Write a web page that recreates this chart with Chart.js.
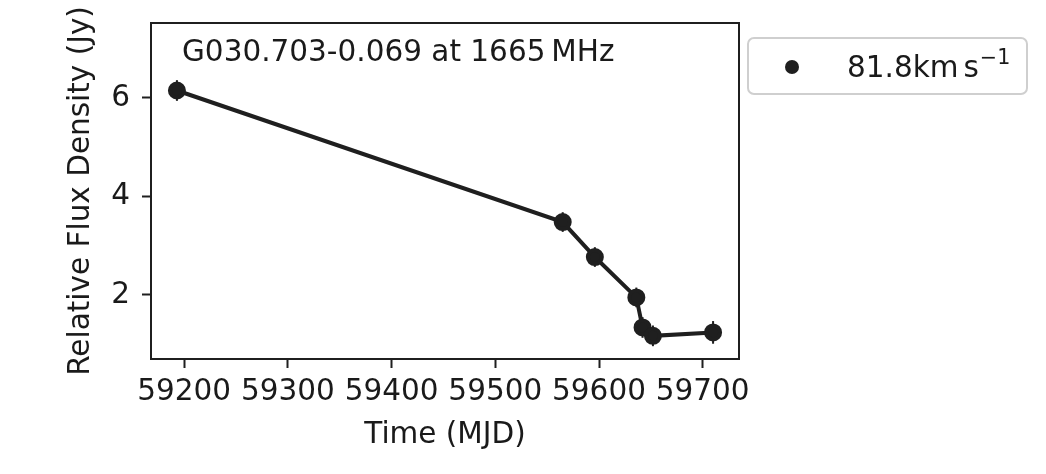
<!DOCTYPE html>
<html>
<head>
<meta charset="utf-8">
<script src="https://cdn.jsdelivr.net/npm/chart.js@4"></script>
<style>body{margin:0;background:#fff}</style>
</head>
<body>
<canvas id="fluxChart" width="1046" height="474"></canvas>
<script>
// Light curve values
const mjd = [59193, 59565, 59596, 59636, 59642, 59652, 59710];
const flux = [6.15, 3.48, 2.77, 1.95, 1.34, 1.17, 1.24];
const fluxErr = [0.21, 0.2, 0.2, 0.2, 0.21, 0.21, 0.23];
const xTicks = [59200, 59300, 59400, 59500, 59600, 59700];
const yTicks = [2, 4, 6];
const seriesLabel = '81.8km';
const seriesUnit = 's';
const seriesSup = '\u22121';
const plotTitle = 'G030.703-0.069 at 1665\u2009MHz';

const ink = '#1f1f1f';
const fontFamily = '"DejaVu Sans", sans-serif';
const fontSize = 29.5;

// Error bars, drawn under the line and markers
const errorBars = {
    id: 'errorBars',
    beforeDatasetsDraw(chart) {
        const {ctx, scales: {x, y}} = chart;
        ctx.save();
        ctx.strokeStyle = ink;
        ctx.lineWidth = 2;
        mjd.forEach((t, i) => {
            const px = x.getPixelForValue(t);
            ctx.beginPath();
            ctx.moveTo(px, y.getPixelForValue(flux[i] - fluxErr[i]));
            ctx.lineTo(px, y.getPixelForValue(flux[i] + fluxErr[i]));
            ctx.stroke();
        });
        ctx.restore();
    }
};

// Axes frame, title inside the plot and legend box on the right
const decorations = {
    id: 'decorations',
    afterDraw(chart) {
        const {ctx, chartArea: a} = chart;
        ctx.save();
        ctx.strokeStyle = ink;
        ctx.lineWidth = 2;
        ctx.strokeRect(a.left, a.top, a.right - a.left, a.bottom - a.top);

        ctx.fillStyle = '#1a1a1a';
        ctx.font = fontSize + 'px ' + fontFamily;
        ctx.textBaseline = 'alphabetic';
        ctx.textAlign = 'left';
        ctx.fillText(plotTitle, a.left + 31, 61);

        // legend
        const bx = 748, by = 38, bw = 279, bh = 56;
        ctx.beginPath();
        ctx.roundRect(bx, by, bw, bh, 6);
        ctx.fillStyle = '#fff';
        ctx.fill();
        ctx.strokeStyle = '#cfcfcf';
        ctx.lineWidth = 2;
        ctx.stroke();

        const ds = chart.data.datasets[0];
        ctx.beginPath();
        ctx.arc(792, 67, 7, 0, Math.PI * 2);
        ctx.fillStyle = ds.backgroundColor;
        ctx.fill();

        ctx.fillStyle = '#1a1a1a';
        ctx.font = fontSize + 'px ' + fontFamily;
        let tx = 847;
        const ty = 77;
        ctx.fillText(ds.label, tx, ty);
        tx += ctx.measureText(ds.label).width + 5;
        ctx.fillText(seriesUnit, tx, ty);
        tx += ctx.measureText(seriesUnit).width + 1;
        ctx.font = (fontSize * 0.7) + 'px ' + fontFamily;
        ctx.fillText(seriesSup, tx, ty - 13);
        ctx.restore();
    }
};

const tickFont = {family: fontFamily, size: fontSize};

new Chart(document.getElementById('fluxChart'), {
    type: 'scatter',
    data: {
        datasets: [{
            label: seriesLabel,
            data: mjd.map((t, i) => ({x: t, y: flux[i]})),
            showLine: true,
            borderColor: ink,
            backgroundColor: ink,
            borderWidth: 4,
            pointRadius: 7,
            pointHoverRadius: 7,
            tension: 0
        }]
    },
    options: {
        responsive: false,
        animation: false,
        events: [],
        layout: {padding: {left: 0, right: 307, top: 23, bottom: 0}},
        plugins: {
            legend: {display: false},
            title: {display: false},
            tooltip: {enabled: false}
        },
        scales: {
            x: {
                type: 'linear',
                min: 59168,
                max: 59735,
                afterBuildTicks: (scale) => { scale.ticks = xTicks.map(v => ({value: v})); },
                afterFit: (scale) => {
                    scale.height = 115;
                    scale.paddingLeft = 0;
                    scale.paddingRight = 0;
                },
                border: {display: false},
                grid: {drawOnChartArea: false, drawTicks: true, tickLength: 9, tickWidth: 2, tickColor: ink},
                ticks: {
                    font: tickFont,
                    color: '#1a1a1a',
                    padding: 7,
                    maxRotation: 0,
                    callback: (v) => String(v)
                },
                title: {
                    display: true,
                    text: 'Time (MJD)',
                    font: tickFont,
                    color: '#1a1a1a',
                    padding: {top: 0, bottom: 21}
                }
            },
            y: {
                type: 'linear',
                min: 0.70,
                max: 7.52,
                afterBuildTicks: (scale) => { scale.ticks = yTicks.map(v => ({value: v})); },
                afterFit: (scale) => {
                    scale.width = 151;
                    scale.paddingTop = 0;
                    scale.paddingBottom = 0;
                },
                border: {display: false},
                grid: {drawOnChartArea: false, drawTicks: true, tickLength: 9, tickWidth: 2, tickColor: ink},
                ticks: {
                    font: tickFont,
                    color: '#1a1a1a',
                    padding: 12,
                    callback: (v) => String(v)
                },
                title: {
                    display: true,
                    text: 'Relative Flux Density (Jy)',
                    font: tickFont,
                    color: '#1a1a1a',
                    padding: {top: 64, bottom: 0}
                }
            }
        }
    },
    plugins: [errorBars, decorations]
});
</script>
</body>
</html>
